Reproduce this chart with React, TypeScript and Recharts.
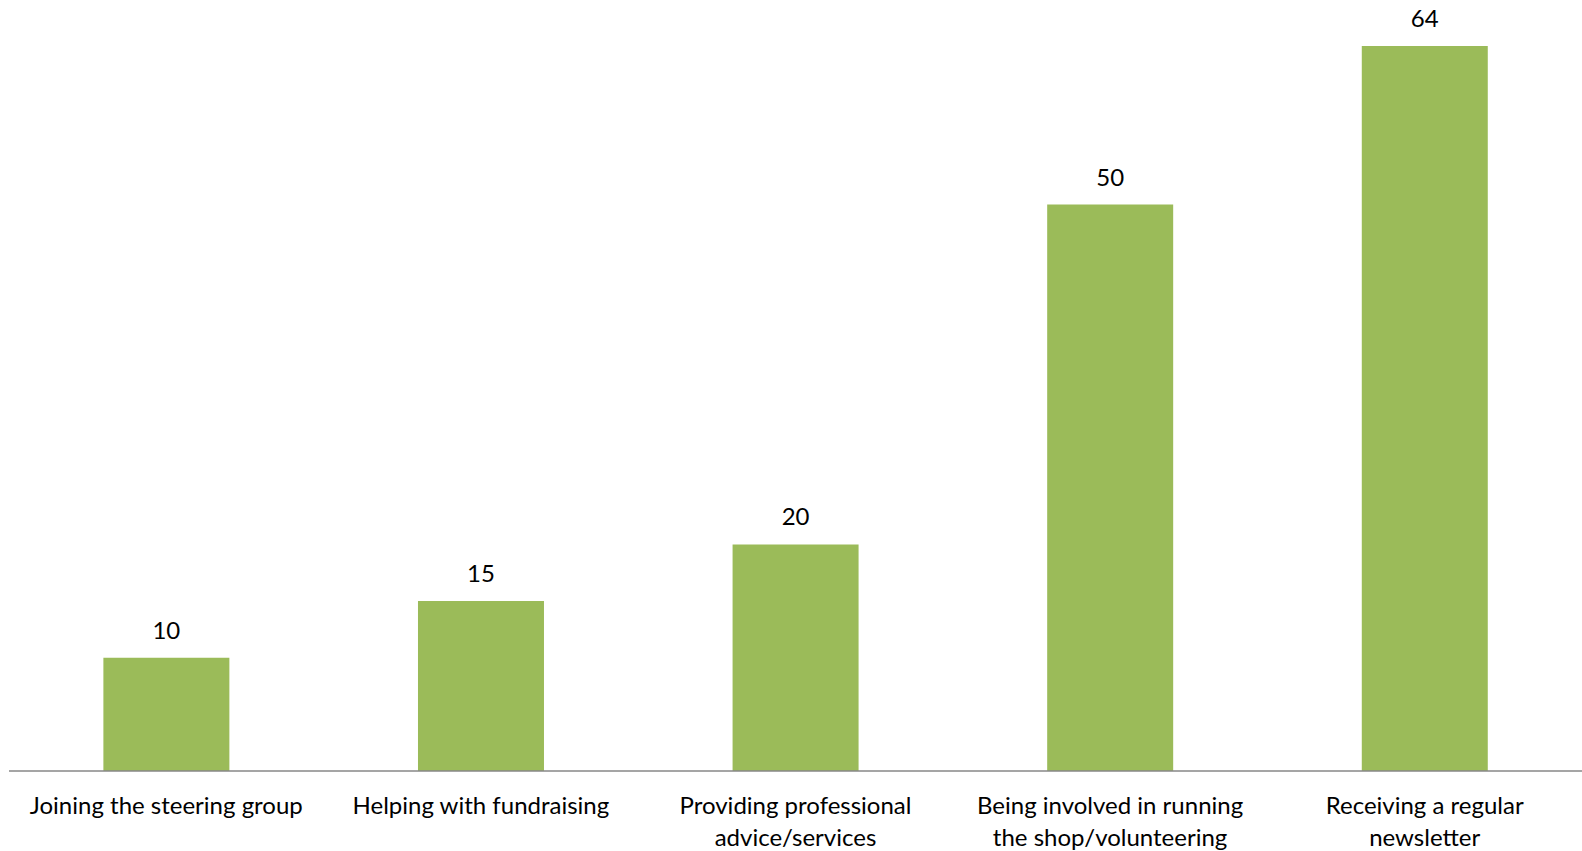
import { Bar, BarChart, LabelList, XAxis, YAxis } from "recharts";

const categories = [
  "Joining the steering group",
  "Helping with fundraising",
  "Providing professional\nadvice/services",
  "Being involved in running\nthe shop/volunteering",
  "Receiving a regular\nnewsletter",
];
const counts = [10, 15, 20, 50, 64];

const data = categories.map((name, i) => ({ name, value: counts[i] }));

const FONT = "Lato, 'Open Sans', sans-serif";

function CategoryTick({ x, y, payload }: any) {
  const lines = String(payload.value).split("\n");
  return (
    <text x={x} y={y} textAnchor="middle" fill="#000" fontSize={24} fontFamily={FONT}>
      {lines.map((line, i) => (
        <tspan key={i} x={x} dy={i === 0 ? 35 : 32}>
          {line}
        </tspan>
      ))}
    </text>
  );
}

export default function App() {
  return (
    <div style={{ position: "fixed", left: 0, top: 0, background: "#fff" }}>
      <BarChart
        width={1582}
        height={851}
        data={data}
        margin={{ top: 46, right: 0, left: 9, bottom: 0 }}
        barCategoryGap="30%"
      >
        <XAxis
          dataKey="name"
          interval={0}
          height={80}
          tickLine={false}
          axisLine={{ stroke: "#878787", strokeWidth: 1.5 }}
          tick={<CategoryTick />}
        />
        <YAxis hide domain={[0, 64]} />
        <Bar dataKey="value" fill="#9BBB59" isAnimationActive={false}>
          <LabelList
            dataKey="value"
            position="top"
            offset={19}
            fill="#000"
            fontSize={24}
            fontFamily={FONT}
          />
        </Bar>
      </BarChart>
    </div>
  );
}
